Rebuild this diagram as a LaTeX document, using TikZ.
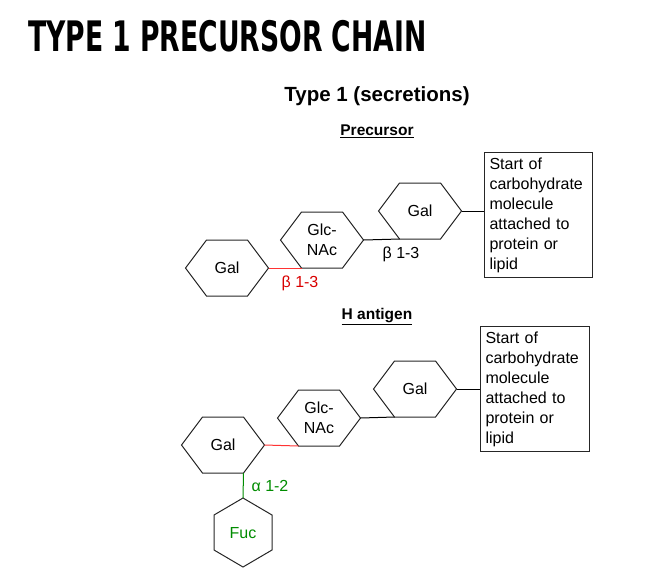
\documentclass[tikz,border=0pt]{standalone}
\usepackage{fontspec}
\setmainfont{Liberation Sans}
\newfontfamily\titlefont{DejaVu Sans Condensed}
\begin{document}
\begin{tikzpicture}[x=1pt,y=-1pt,
  lbl/.style={font=\fontsize{16}{20}\selectfont,inner sep=0pt},
  bond/.style={line width=1pt},
  hexline/.style={draw=black!85,line width=1pt},
  redc/.style={color=red!85!black},
  grnc/.style={color=green!55!black}]
\useasboundingbox (0,0) rectangle (668,579);
\newcommand{\hexa}[5]{% name, cx, cy, text, style
  \draw[hexline] (#2-41.5,#3) -- (#2-20.5,#3-28) -- (#2+20.5,#3-28) -- (#2+41.5,#3) -- (#2+20.5,#3+28) -- (#2-20.5,#3+28) -- cycle;
  \coordinate (#1-r) at (#2+41.5,#3);
  \coordinate (#1-l) at (#2-41.5,#3);
  \coordinate (#1-bl) at (#2-20.5,#3+28);
  \coordinate (#1-br) at (#2+20.5,#3+28);
  \node[lbl,align=center,#5] (#1) at (#2,#3) {#4};}
\node[anchor=west,inner sep=0pt,font=\titlefont\bfseries\fontsize{40}{40}\selectfont,xscale=0.74,yscale=1.05] (title) at (28,36) {TYPE 1 PRECURSOR CHAIN};
\node[font=\bfseries\fontsize{20.5}{24}\selectfont] (t1) at (377,96) {Type 1 (secretions)};
\node[font=\bfseries\fontsize{15.5}{18}\selectfont] (pre) at (377,131) {\underline{Precursor}};
\node[font=\bfseries\fontsize{15.5}{18}\selectfont] (hag) at (377,317) {\underline{H antigen}};
% top chain
\hexa{ga}{227}{268}{Gal}{}
\hexa{gn}{322}{240}{Glc-\\NAc}{}
\hexa{gb}{420}{211}{Gal}{}
\node[draw=black!85,line width=1pt,lbl,align=left,anchor=north west,minimum width=108pt,minimum height=119pt,inner sep=5pt,text width=98pt] (box1) at (484,152) {Start of\\carbohydrate\\molecule\\attached to\\protein or\\lipid};
\draw[bond,red!80] (ga-r) -- (gn-bl);
\draw[bond] (gn-r) -- (gb-bl);
\draw[bond] (gb-r) -- (box1.west |- gb-r);
\node[lbl,redc] (l1) at (300,283) {β 1-3};
\node[lbl] (l2) at (401,254) {β 1-3};
% bottom chain
\hexa{ha}{223}{445}{Gal}{}
\hexa{hn}{319}{418}{Glc-\\NAc}{}
\hexa{hb}{415}{389}{Gal}{}
\node[draw=black!85,line width=1pt,lbl,align=left,anchor=north west,minimum width=109pt,minimum height=125pt,inner sep=5pt,text width=99pt] (box2) at (480,326) {Start of\\carbohydrate\\molecule\\attached to\\protein or\\lipid};
\draw[hexline] (243,498) -- (272,515) -- (272,550) -- (243,567) -- (214,550) -- (214,515) -- cycle;
\coordinate (fuc-t) at (243,498);
\node[lbl,grnc] (fuc) at (243,533) {Fuc};
\draw[bond,red!80] (ha-r) -- (hn-bl);
\draw[bond] (hn-r) -- (hb-bl);
\draw[bond] (hb-r) -- (box2.west |- hb-r);
\draw[bond,green!55!black] (ha-br) -- (fuc-t);
\node[lbl,grnc] (l3) at (270,486) {α 1-2};
\end{tikzpicture}
\end{document}
